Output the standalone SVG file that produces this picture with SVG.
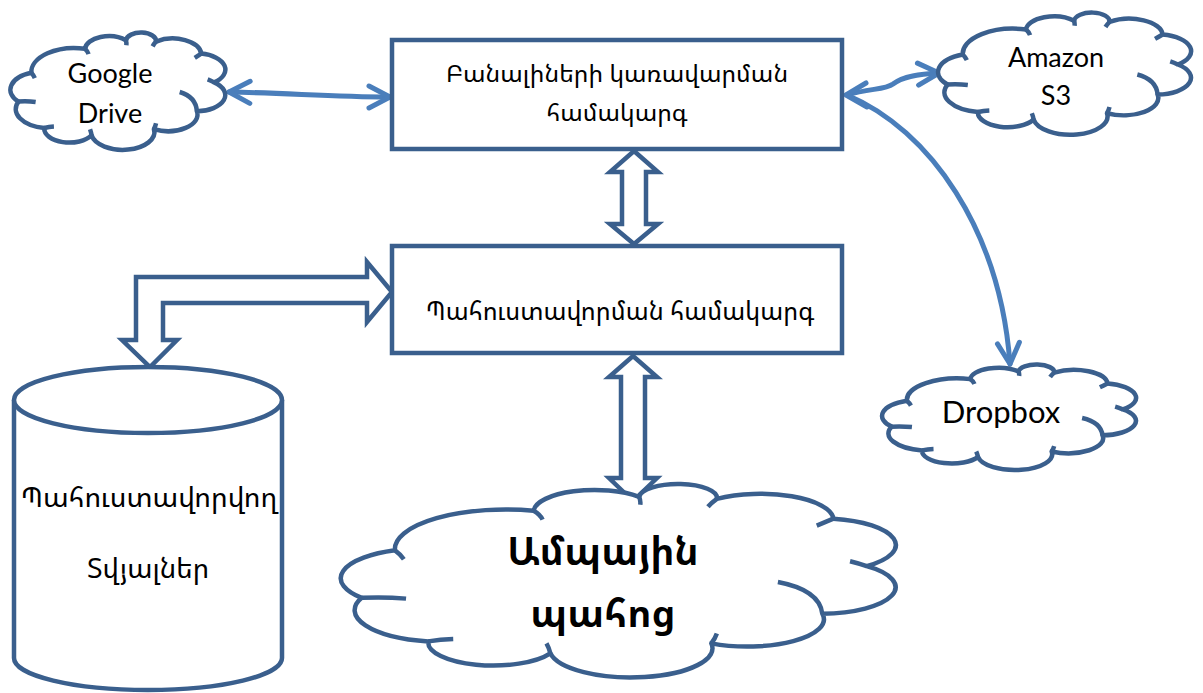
<svg xmlns="http://www.w3.org/2000/svg" xmlns:xlink="http://www.w3.org/1999/xlink" width="1203" height="693" viewBox="0 0 1203 693">
  <style>
    .shape { fill: #ffffff; stroke: #3A5F8D; stroke-width: 4.5; stroke-linejoin: miter; }
    .cloud-outline { fill: #ffffff; stroke: #3A5F8D; stroke-width: 4.5; stroke-linejoin: round; vector-effect: non-scaling-stroke; }
    .cloud-hook { fill: none; stroke: #3A5F8D; stroke-width: 4.5; vector-effect: non-scaling-stroke; }
    .link { fill: none; stroke: #4A7EBB; stroke-width: 5; stroke-linecap: round; }
    .arm { fill: none; stroke: #4A7EBB; stroke-width: 5; stroke-linecap: round; stroke-linejoin: round; }
    .hy { font-family: "Noto Sans Armenian", "DejaVu Sans", sans-serif; fill: #000000; text-anchor: middle; }
    .lat { font-family: Lato, "Liberation Sans", sans-serif; fill: #000000; text-anchor: middle; }
  </style>
  <defs>
    <!-- cloud drawn in a 100 x 100 box, scaled per use -->
    <g id="cloud">
      <path class="cloud-outline" d="M3,58 A15,15 0 0 1 9,34 A20,20 0 0 1 34,14 A11,11 0 0 1 53,7 A7,7 0 0 1 67,8 A13.2,13.2 0 0 1 88,18 A13.5,13.5 0 0 1 94,42 A13.4,13.4 0 0 1 86,66 A13.8,13.8 0 0 1 66,81 A14,14 0 0 1 37,86 A11.7,11.7 0 0 1 15,80 A16,16 0 0 1 3,58 Z"/>
      <path class="cloud-hook" d="M3,58 Q7,57.4 11,58.4 M9,34 Q10,36 10.6,38.5 M34,14 Q35.2,16 35.6,18.5 M53,7 Q53.3,9 53.2,11 M67,8 Q66,10 65.4,12 M88,18 Q86.5,19.8 85,21.5 M94,42 Q92.5,40.5 91,39.5 M86,66 Q85.5,54 78,50 M66,81 Q66.7,78.5 67,76 M37,86 Q36.8,83.5 36.3,81 M15,80 Q17.2,79 19.5,78.8"/>
    </g>
    <marker id="head" viewBox="-26 -14 30 28" refX="0" refY="0" markerWidth="30" markerHeight="28" markerUnits="userSpaceOnUse" orient="auto-start-reverse">
      <path class="arm" d="M-21,-11 L0,0 L-21,11"/>
    </marker>
  </defs>

  <!-- connectors -->
  <g id="connectors">
    <path class="link" d="M229,92 C290,93 330,97 390,97" marker-start="url(#head)" marker-end="url(#head)"/>
    <path class="link" d="M847,95 C870,88 885,90 893,84 C903,76 920,74 939,73" marker-end="url(#head)"/>
    <path class="link" d="M847,95 C930,130 1000,230 1010,364" marker-end="url(#head)"/>
    <path class="arm" d="M866,83 L846,95 L867,107"/>
    <!-- hollow block arrows -->
    <polygon class="shape" points="634,151 658,172 646,172 646,224 658,224 634,244 610,224 622,224 622,172 610,172"/>
    <polygon class="shape" points="633,356 657,377 645,377 645,478 657,478 633,501 609,478 621,478 621,377 609,377"/>
    <polygon class="shape" points="392,292 367,262 367,277 136,277 136,340 122,340 150,367 177,340 163,340 163,303 367,303 367,322"/>
  </g>

  <g id="key-management">
    <rect class="shape" x="392" y="40" width="450" height="109"/>
    <text class="hy" x="617" y="82" font-size="24.5">Բանալիների կառավարման</text>
    <text class="hy" x="617" y="121" font-size="24.5">համակարգ</text>
  </g>

  <g id="backup-system">
    <rect class="shape" x="392" y="246" width="450" height="107"/>
    <text class="hy" x="620" y="320" font-size="25">Պահուստավորման համակարգ</text>
  </g>

  <g id="backup-data">
    <path class="shape" d="M14,400 L14,658 A134,32 0 0 0 282,658 L282,400"/>
    <ellipse class="shape" cx="148" cy="400" rx="134" ry="33"/>
    <text class="hy" x="149" y="507" font-size="28">Պահուստավորվող</text>
    <text class="hy" x="148" y="578" font-size="27.5">Տվյալներ</text>
  </g>

  <g id="google-drive">
    <use xlink:href="#cloud" transform="translate(12,32) scale(2.15,1.2)"/>
    <text class="lat" x="110" y="83" font-size="27">Google</text>
    <text class="lat" x="110" y="123" font-size="27">Drive</text>
  </g>

  <g id="amazon-s3">
    <use xlink:href="#cloud" transform="translate(940,12) scale(2.53,1.25)"/>
    <text class="lat" x="1056" y="67" font-size="27">Amazon</text>
    <text class="lat" x="1056" y="105" font-size="27">S3</text>
  </g>

  <g id="dropbox">
    <use xlink:href="#cloud" transform="translate(884,364) scale(2.54,1.08)"/>
    <text class="lat" x="1001" y="423" font-size="31">Dropbox</text>
  </g>

  <g id="cloud-storage">
    <use xlink:href="#cloud" transform="translate(345,483) scale(5.55,1.98)"/>
    <text class="hy" x="603" y="565" font-size="38" font-weight="bold">Ամպային</text>
    <text class="hy" x="603" y="627" font-size="38" font-weight="bold">պահոց</text>
  </g>
</svg>
